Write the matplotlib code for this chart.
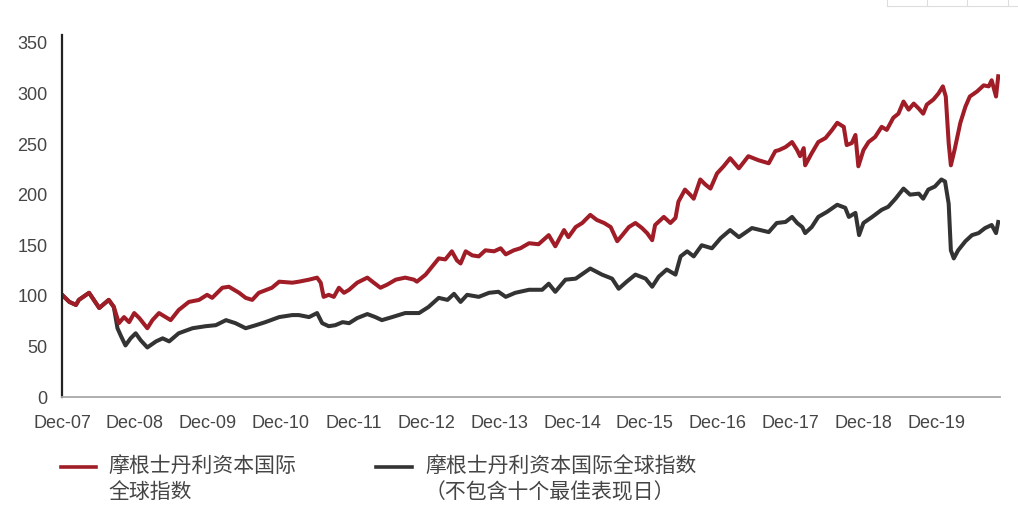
import matplotlib
matplotlib.use("Agg")
import matplotlib.pyplot as plt
from matplotlib.lines import Line2D
import numpy as np

# values, x in decimal years (Dec-07 = 2007.92)
red_t = [2007.92, 2008.02, 2008.11, 2008.15, 2008.29, 2008.43, 2008.56, 2008.63,
         2008.70, 2008.77, 2008.84, 2008.91, 2008.98, 2009.09, 2009.16, 2009.25,
         2009.34, 2009.41, 2009.52, 2009.66, 2009.80, 2009.91, 2009.98, 2010.12,
         2010.21, 2010.35, 2010.44, 2010.53, 2010.62, 2010.80, 2010.90, 2011.08,
         2011.17, 2011.31, 2011.42, 2011.47, 2011.51, 2011.58, 2011.65, 2011.72,
         2011.79, 2011.86, 2011.97, 2012.11, 2012.18, 2012.29, 2012.38, 2012.50,
         2012.63, 2012.75, 2012.79, 2012.91, 2013.00, 2013.09, 2013.18, 2013.27,
         2013.34, 2013.39, 2013.46, 2013.55, 2013.64, 2013.73, 2013.85, 2013.94,
         2014.01, 2014.12, 2014.21, 2014.33, 2014.46, 2014.60, 2014.69, 2014.81,
         2014.87, 2014.97, 2015.06, 2015.17, 2015.26, 2015.36, 2015.45, 2015.54,
         2015.61, 2015.70, 2015.79, 2015.88, 2015.95, 2016.02, 2016.06, 2016.18,
         2016.27, 2016.34, 2016.38, 2016.47, 2016.54, 2016.59, 2016.68, 2016.75,
         2016.82, 2016.91, 2017.00, 2017.09, 2017.21, 2017.34, 2017.48, 2017.62,
         2017.71, 2017.76, 2017.85, 2017.94, 2018.01, 2018.05, 2018.10, 2018.12,
         2018.21, 2018.30, 2018.40, 2018.49, 2018.56, 2018.65, 2018.69, 2018.76,
         2018.81, 2018.85, 2018.92, 2018.99, 2019.08, 2019.17, 2019.24, 2019.33,
         2019.40, 2019.47, 2019.54, 2019.61, 2019.68, 2019.74, 2019.79, 2019.88,
         2019.95, 2020.01, 2020.05, 2020.09, 2020.12, 2020.17, 2020.25, 2020.32,
         2020.38, 2020.48, 2020.57, 2020.64, 2020.68, 2020.74, 2020.77]
red_v = [101, 94, 91, 96, 103, 88, 96, 89,
         73, 79, 74, 83, 78, 68, 76, 83,
         79, 76, 86, 94, 96, 101, 98, 108,
         109, 103, 98, 96, 103, 108, 114, 113,
         114, 116, 118, 113, 99, 101, 99, 108,
         103, 106, 113, 118, 114, 108, 111, 116,
         118, 116, 114, 121, 129, 137, 136, 144,
         135, 132, 144, 140, 139, 145, 144, 147,
         141, 145, 147, 152, 151, 160, 149, 165,
         158, 168, 172, 180, 175, 172, 168, 154,
         160, 168, 172, 167, 162, 155, 170, 178,
         172, 177, 193, 205, 200, 196, 215, 210,
         206, 221, 228, 236, 226, 238, 234, 231,
         243, 244, 247, 252, 244, 238, 246, 229,
         241, 252, 256, 264, 271, 267, 249, 251,
         259, 228, 244, 252, 257, 267, 264, 276,
         280, 292, 284, 290, 285, 280, 289, 294,
         300, 307, 297, 251, 229, 244, 271, 287,
         297, 302, 308, 307, 313, 297, 317]

blk_t = [2007.92, 2008.02, 2008.11, 2008.15, 2008.29, 2008.43, 2008.56, 2008.63,
         2008.68, 2008.73, 2008.79, 2008.86, 2008.93, 2009.00, 2009.09, 2009.21,
         2009.30, 2009.39, 2009.52, 2009.71, 2009.89, 2010.03, 2010.17, 2010.30,
         2010.44, 2010.58, 2010.71, 2010.90, 2011.08, 2011.17, 2011.31, 2011.42,
         2011.49, 2011.58, 2011.67, 2011.77, 2011.86, 2011.97, 2012.11, 2012.22,
         2012.31, 2012.45, 2012.63, 2012.82, 2012.95, 2013.09, 2013.21, 2013.30,
         2013.39, 2013.48, 2013.64, 2013.78, 2013.91, 2014.01, 2014.14, 2014.33,
         2014.51, 2014.60, 2014.69, 2014.83, 2014.97, 2015.17, 2015.33, 2015.47,
         2015.56, 2015.67, 2015.79, 2015.93, 2016.02, 2016.11, 2016.22, 2016.34,
         2016.41, 2016.50, 2016.59, 2016.70, 2016.84, 2016.96, 2017.09, 2017.21,
         2017.39, 2017.62, 2017.73, 2017.85, 2017.94, 2018.01, 2018.08, 2018.12,
         2018.21, 2018.30, 2018.42, 2018.56, 2018.67, 2018.72, 2018.81, 2018.86,
         2018.92, 2019.04, 2019.17, 2019.26, 2019.36, 2019.47, 2019.56, 2019.68,
         2019.74, 2019.81, 2019.90, 2019.99, 2020.04, 2020.09, 2020.12, 2020.16,
         2020.22, 2020.32, 2020.41, 2020.50, 2020.59, 2020.68, 2020.74, 2020.77]
blk_v = [101, 94, 91, 96, 103, 88, 96, 89,
         68, 60, 51, 58, 63, 56, 49, 55,
         58, 55, 63, 68, 70, 71, 76, 73,
         68, 71, 74, 79, 81, 81, 79, 83,
         73, 70, 71, 74, 73, 78, 82, 79,
         76, 79, 83, 83, 89, 98, 96, 102,
         94, 101, 99, 103, 104, 99, 103, 106,
         106, 112, 104, 116, 117, 127, 121, 117,
         107, 114, 121, 117, 109, 119, 126, 121,
         139, 144, 139, 150, 147, 157, 165, 158,
         167, 163, 172, 173, 178, 172, 168, 162,
         168, 178, 183, 190, 187, 178, 182, 160,
         172, 178, 185, 188, 196, 206, 200, 201,
         196, 205, 208, 215, 213, 191, 145, 137,
         145, 154, 160, 162, 167, 170, 162, 173]

tick_pos = [2007.92 + k for k in range(13)]
tick_labels = ["Dec-%02d" % (y % 100) for y in range(2007, 2020)]
y_ticks = [0, 50, 100, 150, 200, 250, 300, 350]

label_red = "摩根士丹利资本国际\n全球指数"
label_blk = "摩根士丹利资本国际全球指数\n（不包含十个最佳表现日）"

RED = "#a01c26"
BLK = "#333333"
TXT = "#454545"

plt.rcParams["font.family"] = ["Liberation Sans", "DejaVu Sans"]

fig = plt.figure(figsize=(10.18, 5.19), dpi=100)
ax = fig.add_axes([0.061, 0.235, 0.921, 0.698])

ax.plot(blk_t, blk_v, color=BLK, lw=2.9, solid_joinstyle="round")
ax.plot(red_t, red_v, color=RED, lw=2.9, solid_joinstyle="round")

ax.set_xlim(2007.92, 2020.79)
ax.set_ylim(0, 358)
ax.set_xticks(tick_pos)
ax.set_xticklabels(tick_labels)
ax.set_yticks(y_ticks)
ax.tick_params(axis="both", length=0, labelsize=13, labelcolor=TXT)
ax.tick_params(axis="x", pad=13)
ax.tick_params(axis="y", pad=10.5)

for s in ["top", "right"]:
    ax.spines[s].set_visible(False)
ax.spines["left"].set_color("#222222")
ax.spines["left"].set_linewidth(1.6)
ax.spines["bottom"].set_color("#a8a8a8")
ax.spines["bottom"].set_linewidth(1.3)

# legend below the axes
cjk = ["Noto Sans CJK SC", "DejaVu Sans"]
W, H = 1018.0, 519.0
for (x0, x1, xt, col, lab) in [(61, 96, 108, RED, label_red),
                                (376, 412, 425, BLK, label_blk)]:
    fig.add_artist(Line2D([x0 / W, x1 / W], [1 - 467 / H, 1 - 467 / H],
                          color=col, lw=2.6, transform=fig.transFigure))
    fig.text(xt / W, 1 - 455 / H, lab, family=cjk, fontsize=15, color=TXT,
             va="top", ha="left", linespacing=1.25)

# small toolbar box at the top right of the screenshot
for xb in [887, 927, 967, 1008]:
    fig.add_artist(Line2D([xb / W, xb / W], [1.0, 1 - 6 / H], color="#dddddd",
                          lw=0.8, transform=fig.transFigure))
fig.add_artist(Line2D([887 / W, 1.0], [1 - 6 / H, 1 - 6 / H], color="#dddddd",
                      lw=0.8, transform=fig.transFigure))

fig.savefig("out.png", dpi=100, facecolor="white")
